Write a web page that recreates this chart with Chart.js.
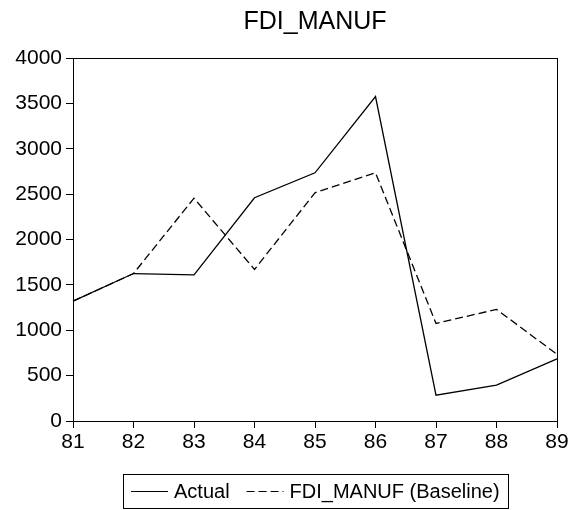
<!DOCTYPE html>
<html>
<head>
<meta charset="utf-8">
<script src="https://cdn.jsdelivr.net/npm/chart.js@4"></script>
<style>
  html, body { margin: 0; padding: 0; background: #fff; }
  #wrap { width: 578px; height: 510px; }
</style>
</head>
<body>
<div id="wrap"><canvas id="fdiChart" width="578" height="510"></canvas></div>
<script>
// data
const years = ['81', '82', '83', '84', '85', '86', '87', '88', '89'];
const actualValues = [1320, 1625, 1610, 2460, 2735, 3575, 285, 395, 685];
const baselineValues = [1320, 1625, 2455, 1670, 2515, 2735, 1075, 1230, 735];
const seriesNames = ['Actual', 'FDI_MANUF (Baseline)'];

const FONT = 'Liberation Sans, Arial, sans-serif';

// box round the plot area
const frame = {
    id: 'frame',
    afterDraw(chart) {
        const { ctx, chartArea: a } = chart;
        ctx.save();
        ctx.strokeStyle = '#000';
        ctx.lineWidth = 1;
        ctx.strokeRect(Math.round(a.left) + 0.5, Math.round(a.top) + 0.5,
            Math.round(a.right - a.left), Math.round(a.bottom - a.top));
        ctx.restore();
    }
};

// legend box under the chart
const boxLegend = {
    id: 'boxLegend',
    afterDraw(chart) {
        const { ctx, chartArea: a } = chart;
        ctx.save();
        ctx.font = '20px ' + FONT;
        ctx.textBaseline = 'middle';
        const lineLen = 37, gap = 6, between = 17;
        const widths = seriesNames.map(n => ctx.measureText(n).width);
        const inner = 2 * (lineLen + gap) + widths[0] + between + widths[1];
        const boxW = inner + 16;
        const cx = (a.left + a.right) / 2;
        const left = Math.round(cx - boxW / 2);
        const top = 474, h = 34, y = top + h / 2;
        ctx.strokeStyle = '#000';
        ctx.lineWidth = 1;
        ctx.strokeRect(left + 0.5, top + 0.5, Math.round(boxW), h);
        let x = left + 8;
        const styles = [[], [8, 4]];
        for (let i = 0; i < 2; i++) {
            ctx.beginPath();
            ctx.setLineDash(styles[i]);
            ctx.lineWidth = 1.2;
            ctx.moveTo(x, y + 0.5);
            ctx.lineTo(x + lineLen, y + 0.5);
            ctx.stroke();
            ctx.setLineDash([]);
            x += lineLen + gap;
            ctx.fillStyle = '#000';
            ctx.fillText(seriesNames[i], x, y + 1);
            x += widths[i] + between;
        }
        ctx.restore();
    }
};

new Chart(document.getElementById('fdiChart'), {
    type: 'line',
    data: {
        labels: years,
        datasets: [{
            label: seriesNames[0],
            data: actualValues,
            borderColor: '#000',
            borderWidth: 1.3,
            pointRadius: 0,
            tension: 0,
            fill: false
        }, {
            label: seriesNames[1],
            data: baselineValues,
            borderColor: '#000',
            borderWidth: 1.3,
            borderDash: [8, 4],
            pointRadius: 0,
            tension: 0,
            fill: false
        }]
    },
    options: {
        responsive: false,
        animation: false,
        layout: { padding: { left: 0, right: 21, top: 0, bottom: 60 } },
        plugins: {
            legend: { display: false },
            tooltip: { enabled: false },
            title: {
                display: true,
                fullSize: false,
                text: 'FDI_MANUF',
                color: '#000',
                font: { family: FONT, size: 25, weight: 'normal' },
                padding: { top: 7, bottom: 21 }
            }
        },
        scales: {
            x: {
                offset: false,
                afterFit(s) { s.height = 29; },
                grid: { drawOnChartArea: false, tickLength: 7, tickColor: '#000' },
                border: { color: '#000' },
                ticks: { color: '#000', padding: 2, maxRotation: 0, font: { family: FONT, size: 21 } }
            },
            y: {
                min: 0,
                max: 4000,
                afterFit(s) { s.width = 73; },
                grid: { drawOnChartArea: false, tickLength: 7, tickColor: '#000' },
                border: { color: '#000' },
                ticks: {
                    color: '#000',
                    stepSize: 500,
                    padding: 4,
                    font: { family: FONT, size: 21 },
                    callback: v => String(v)
                }
            }
        }
    },
    plugins: [frame, boxLegend]
});
</script>
</body>
</html>
